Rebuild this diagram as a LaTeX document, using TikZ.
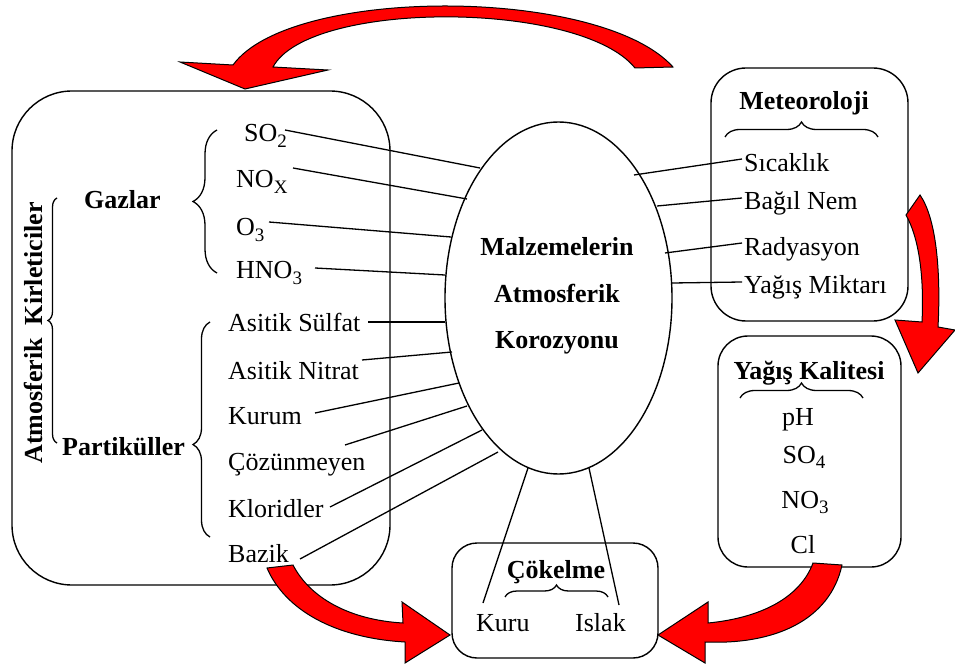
\documentclass[tikz,border=0pt]{standalone}
\usepackage{fontspec}
\setmainfont{Liberation Serif}
\usetikzlibrary{shapes.geometric,decorations.pathreplacing}
\newcommand\chemsub[1]{\raisebox{-0.22em}{\fontsize{19}{19}\selectfont #1}}

\begin{document}
\begin{tikzpicture}[x=1pt,y=-1pt,
  every node/.style={font=\fontsize{26}{30}\selectfont, inner sep=0pt},
  lbl/.style={anchor=base west},
  ctr/.style={anchor=base},
  head/.style={anchor=base, font=\fontsize{26}{30}\selectfont\bfseries},
  frame/.style={draw, line width=1.4pt, rounded corners=#1},
  link/.style={line width=1.3pt},
  curly/.style={line width=1.3pt, decorate, decoration={brace, amplitude=#1}},
  bendarrow/.style={fill=red, draw=black, line width=1pt, line join=miter}
]
\useasboundingbox (0,0) rectangle (955,668);

% frames
\node[frame=60, minimum width=378pt, minimum height=494pt] (kirl) at (201,338) {};
\node[frame=35, minimum width=197pt, minimum height=253pt] (meteo) at (809.5,194.5) {};
\node[frame=30, minimum width=183pt, minimum height=231pt] (kalite) at (809.5,451.5) {};
\node[frame=25, minimum width=206pt, minimum height=115pt] (cokel) at (555,600.5) {};
\node[draw, ellipse, line width=1.4pt, minimum width=227pt, minimum height=352pt] (ell) at (558.5,298) {};

% centre text
\node[head] (m1) at (557,255) {Malzemelerin};
\node[head] (m2) at (557,302) {Atmosferik};
\node[head] (m3) at (557,348) {Korozyonu};

% pollutants
\node[head, rotate=90] (atmk) at (42,333) {Atmosferik\ \ Kirleticiler};
\node[head, anchor=base west] (gaz) at (84,209) {Gazlar};
\node[head, anchor=base west] (part) at (62,455) {Partiküller};
\node[lbl] (so2) at (244,142) {SO\chemsub{2}};
\node[lbl] (nox) at (236,188) {NO\chemsub{X}};
\node[lbl] (o3) at (236,236) {O\chemsub{3}};
\node[lbl] (hno3) at (236,279) {HNO\chemsub{3}};
\node[lbl] (sulf) at (228,331) {Asitik Sülfat};
\node[lbl] (nitr) at (228,379) {Asitik Nitrat};
\node[lbl] (kurum) at (228,424) {Kurum};
\node[lbl] (cozun) at (228,470) {Çözünmeyen};
\node[lbl] (klor) at (228,517) {Kloridler};
\node[lbl] (bazik) at (228,562) {Bazik};

% meteorology
\node[head] (meteot) at (804,110) {Meteoroloji};
\node[lbl] (sicak) at (744,172) {Sıcaklık};
\node[lbl] (nem) at (744,210) {Bağıl Nem};
\node[lbl] (rad) at (744,255) {Radyasyon};
\node[lbl] (yagis) at (744,293) {Yağış Miktarı};

% precipitation quality
\node[head] (kalt) at (809,379) {Yağış Kalitesi};
\node[ctr] (ph) at (798,425) {pH};
\node[ctr] (so4) at (804,463) {SO\chemsub{4}};
\node[ctr] (no3) at (805,508) {NO\chemsub{3}};
\node[ctr] (cl) at (803,553) {Cl};

% deposition
\node[head] (cokt) at (556,578) {Çökelme};
\node[lbl] (kuru) at (476,631) {Kuru};
\node[lbl] (islak) at (575,631) {Islak};

% braces
\draw[curly=24] (217,273) -- (217,130);
\draw[curly=17, decoration={aspect=0.43}] (210,537) -- (210,322);
\draw[curly=9] (57,443) -- (57,198);
\draw[curly=15] (725,137) -- (878,137);
\draw[curly=15] (740,398) -- (863,398);
\draw[curly=12] (505,597) -- (608,597);

% connector end points
\coordinate (so2a) at (285,130);   \coordinate (so2b) at (480,168);
\coordinate (noxa) at (293,168);   \coordinate (noxb) at (467,199);
\coordinate (o3a) at (269,222);    \coordinate (o3b) at (451,237);
\coordinate (hno3a) at (315,268);  \coordinate (hno3b) at (445,275);
\coordinate (sulfa) at (368,322);  \coordinate (sulfb) at (445,322);
\coordinate (nitra) at (362,360);  \coordinate (nitrb) at (452,352);
\coordinate (kuruma) at (315,413); \coordinate (kurumb) at (459,383);
\coordinate (cozuna) at (345,445); \coordinate (cozunb) at (467,406);
\coordinate (klora) at (330,507);  \coordinate (klorb) at (482,430);
\coordinate (bazika) at (300,559); \coordinate (bazikb) at (498,452);
\coordinate (sicaka) at (634,175); \coordinate (sicakb) at (742,159);
\coordinate (nema) at (657,206);   \coordinate (nemb) at (742,198);
\coordinate (rada) at (665,253);   \coordinate (radb) at (742,243);
\coordinate (yagisa) at (672,283); \coordinate (yagisb) at (742,282);
\coordinate (kurua) at (528,468);  \coordinate (kurub) at (483,603);
\coordinate (islaka) at (589,468); \coordinate (islakb) at (619,605);

\foreach \n in {so2,nox,o3,hno3,sulf,nitr,kurum,cozun,klor,bazik,sicak,nem,rad,yagis,kuru,islak}
  \draw[link] (\n a) -- (\n b);

% red curved arrows
\draw[bendarrow] (673,67) .. controls (600,-14) and (290,-14) .. (233,65)
  -- (180,62) -- (245,89) -- (328,70) -- (273,67)
  .. controls (309,0) and (580,0) .. (635,68) -- cycle;
\draw[bendarrow] (920,195) .. controls (936,218) and (941,270) .. (938,327)
  -- (955,330) -- (918,373) -- (895,320) -- (922,322)
  .. controls (924,280) and (920,240) .. (906,215) -- cycle;
\draw[bendarrow] (813,563) -- (842,565) .. controls (830,620) and (775,645) .. (705,642)
  -- (705,663) -- (658,635) -- (708,602) -- (708,623)
  .. controls (760,618) and (800,598) .. (813,563) -- cycle;
\draw[bendarrow] (293,565) -- (267,568) .. controls (285,610) and (335,638) .. (405,642)
  -- (405,663) -- (450,635) -- (402,602) -- (403,623)
  .. controls (350,620) and (310,598) .. (293,565) -- cycle;
\end{tikzpicture}
\end{document}
